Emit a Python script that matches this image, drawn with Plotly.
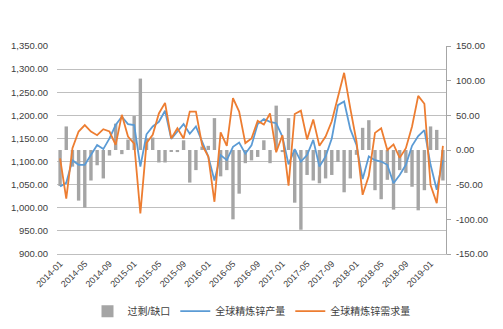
import plotly.graph_objects as go

months = [f"{y}-{m:02d}" for y in range(2014, 2020) for m in range(1, 13)][:63]

production = [1046, 1054, 1103, 1093, 1093, 1116, 1136, 1127, 1150, 1179,
              1197, 1181, 1179, 1089, 1159, 1176, 1186, 1210, 1149, 1165,
              1181, 1160, 1176, 1143, 1111, 1059, 1114, 1103, 1132, 1141,
              1117, 1135, 1181, 1192, 1186, 1183, 1154, 1094, 1127, 1100,
              1114, 1147, 1089, 1111, 1150, 1222, 1230, 1170, 1136, 1062,
              1111, 1103, 1100, 1093, 1053, 1071, 1093, 1134, 1155, 1168,
              1093, 1039, 1103]
demand = [1107, 1020, 1129, 1165, 1179, 1165, 1157, 1170, 1165, 1136,
          1201, 1154, 1139, 988, 1140, 1158, 1204, 1227, 1150, 1172,
          1150, 1208, 1208, 1136, 1111, 1013, 1163, 1134, 1237, 1208,
          1140, 1150, 1188, 1180, 1204, 1120, 1157, 1048, 1203, 1210,
          1148, 1191, 1134, 1154, 1187, 1240, 1292, 1215, 1144, 1028,
          1069, 1162, 1172, 1125, 1137, 1108, 1129, 1176, 1242, 1225,
          1049, 1010, 1134]
balance = [-52, 34, -24, -73, -83, -44, -22, -41, -8, 38,
           -6, 15, 49, 103, 17, 18, -18, -18, -2, -3,
           14, -47, -29, 5, 6, 46, -38, -29, -100, -63,
           -19, -15, -10, 14, -19, 64, -3, 46, -76, -115,
           -36, -44, -48, -41, -36, -17, -61, -41, -7, 32,
           43, -58, -71, -43, -86, -29, -33, -53, -87, -58,
           34, 29, -44]

left_ticks = [900, 950, 1000, 1050, 1100, 1150, 1200, 1250, 1300, 1350]
right_ticks = [-150, -100, -50, 0, 50, 100, 150]
x_ticks = months[::4]

FONT = "Liberation Sans, Noto Sans CJK SC, sans-serif"
TXT = "#404040"

fig = go.Figure()
fig.add_trace(go.Bar(x=months, y=balance, name="过剩/缺口",
                     marker=dict(color="#a5a5a5", line=dict(width=0)),
                     width=0.55, yaxis="y"))
fig.add_trace(go.Scatter(x=months, y=production, name="全球精炼锌产量",
                         mode="lines", line=dict(color="#5b9bd5", width=1.8),
                         yaxis="y2"))
fig.add_trace(go.Scatter(x=months, y=demand, name="全球精炼锌需求量",
                         mode="lines", line=dict(color="#ed7d31", width=1.8),
                         yaxis="y2"))

fig.update_layout(
    width=503, height=329,
    margin=dict(l=57, r=57, t=46, b=75, autoexpand=False),
    paper_bgcolor="white", plot_bgcolor="white",
    font=dict(family=FONT, size=9, color=TXT),
    showlegend=True,
    legend=dict(orientation="h", x=0.5, xanchor="center", y=-0.275, yanchor="middle",
                font=dict(size=10, color=TXT), traceorder="normal",
                itemwidth=30),
    bargap=0.45,
    xaxis=dict(type="category", tickmode="array", tickvals=x_ticks, ticktext=x_ticks,
               tickangle=-45, showgrid=False, showline=True, linecolor="#bfbfbf",
               linewidth=1, ticks="", tickfont=dict(size=9, color=TXT),
               range=[-0.5, len(months) - 0.5], automargin=False),
    yaxis=dict(side="right", range=[-150, 150], tickmode="array",
               tickvals=right_ticks, ticktext=[f"{v:.2f}" for v in right_ticks],
               showgrid=False, zeroline=False, showline=True, linecolor="#a6a6a6",
               ticks="outside", ticklen=4, tickcolor="#a6a6a6",
               tickfont=dict(size=9.5, color=TXT), ticklabelstandoff=3,
               automargin=False),
    yaxis2=dict(side="left", overlaying="y", range=[900, 1350], tickmode="array",
                tickvals=left_ticks, ticktext=[f"{v:,.2f}" for v in left_ticks],
                showgrid=True, gridcolor="#bfbfbf", gridwidth=1, zeroline=False,
                showline=False, ticks="", tickfont=dict(size=9.5, color=TXT),
                ticklabelstandoff=8, automargin=False),
)

fig.write_html("out.html")
